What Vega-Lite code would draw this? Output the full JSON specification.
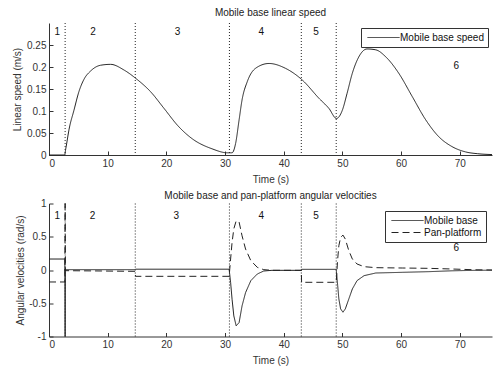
{
  "$schema": "https://vega.github.io/schema/vega-lite/v6.json",
  "padding": {"left": 12, "top": 7, "right": 0, "bottom": 0},
  "background": "white",
  "spacing": 6.5,
  "resolve": {"scale": {"strokeDash": "independent"}, "legend": {"strokeDash": "independent"}},
  "config": {
    "view": {"stroke": null},
    "font": "Liberation Sans",
    "axis": {
      "domainColor": "#333", "tickColor": "#333", "labelColor": "#333", "titleColor": "#333",
      "labelFont": "Liberation Sans", "titleFont": "Liberation Sans",
      "labelFontSize": 10, "titleFontSize": 10, "titleFontWeight": "normal",
      "tickSize": -4, "labelPadding": 7, "grid": false, "titlePadding": 6, "labelOverlap": false
    },
    "title": {"font": "Liberation Sans", "fontSize": 10, "fontWeight": "normal", "color": "#222", "offset": 5, "frame": "group", "anchor": "middle"},
    "legend": {
      "labelFont": "Liberation Sans", "labelFontSize": 10, "labelColor": "#111",
      "strokeColor": "#333", "fillColor": "white", "padding": 4,
      "symbolType": "M-0.6,0H5.8", "symbolSize": 100, "symbolStrokeWidth": 1, "symbolStrokeColor": "#222",
      "labelOffset": 24, "rowPadding": 1, "columnPadding": 0, "columns": 1, "title": null
    }
  },
  "datasets": {
    "speed": [
      {"t": 0, "v": 0, "series": "Mobile base speed"},
      {"t": 2.7, "v": 0, "series": "Mobile base speed"},
      {"t": 2.75, "v": 0.005, "series": "Mobile base speed"},
      {"t": 3.0, "v": 0.025, "series": "Mobile base speed"},
      {"t": 3.4, "v": 0.057, "series": "Mobile base speed"},
      {"t": 4.26, "v": 0.102, "series": "Mobile base speed"},
      {"t": 5.1, "v": 0.144, "series": "Mobile base speed"},
      {"t": 5.96, "v": 0.172, "series": "Mobile base speed"},
      {"t": 7.1, "v": 0.191, "series": "Mobile base speed"},
      {"t": 8.8, "v": 0.204, "series": "Mobile base speed"},
      {"t": 10.5, "v": 0.206, "series": "Mobile base speed"},
      {"t": 12.8, "v": 0.193, "series": "Mobile base speed"},
      {"t": 14.8, "v": 0.174, "series": "Mobile base speed"},
      {"t": 17.3, "v": 0.144, "series": "Mobile base speed"},
      {"t": 19.6, "v": 0.106, "series": "Mobile base speed"},
      {"t": 22.0, "v": 0.066, "series": "Mobile base speed"},
      {"t": 24.4, "v": 0.037, "series": "Mobile base speed"},
      {"t": 27.8, "v": 0.014, "series": "Mobile base speed"},
      {"t": 30.4, "v": 0.005, "series": "Mobile base speed"},
      {"t": 31.2, "v": 0.005, "series": "Mobile base speed"},
      {"t": 31.8, "v": 0.026, "series": "Mobile base speed"},
      {"t": 32.4, "v": 0.08, "series": "Mobile base speed"},
      {"t": 32.9, "v": 0.125, "series": "Mobile base speed"},
      {"t": 33.8, "v": 0.167, "series": "Mobile base speed"},
      {"t": 35.2, "v": 0.197, "series": "Mobile base speed"},
      {"t": 37.5, "v": 0.208, "series": "Mobile base speed"},
      {"t": 40.3, "v": 0.197, "series": "Mobile base speed"},
      {"t": 43.2, "v": 0.17, "series": "Mobile base speed"},
      {"t": 46.0, "v": 0.129, "series": "Mobile base speed"},
      {"t": 47.7, "v": 0.106, "series": "Mobile base speed"},
      {"t": 49.0, "v": 0.083, "series": "Mobile base speed"},
      {"t": 50.0, "v": 0.102, "series": "Mobile base speed"},
      {"t": 50.8, "v": 0.14, "series": "Mobile base speed"},
      {"t": 51.7, "v": 0.186, "series": "Mobile base speed"},
      {"t": 52.8, "v": 0.223, "series": "Mobile base speed"},
      {"t": 54.2, "v": 0.241, "series": "Mobile base speed"},
      {"t": 55.7, "v": 0.239, "series": "Mobile base speed"},
      {"t": 57.4, "v": 0.223, "series": "Mobile base speed"},
      {"t": 59.6, "v": 0.186, "series": "Mobile base speed"},
      {"t": 61.9, "v": 0.133, "series": "Mobile base speed"},
      {"t": 64.2, "v": 0.08, "series": "Mobile base speed"},
      {"t": 66.4, "v": 0.042, "series": "Mobile base speed"},
      {"t": 68.7, "v": 0.019, "series": "Mobile base speed"},
      {"t": 71.0, "v": 0.007, "series": "Mobile base speed"},
      {"t": 73.0, "v": 0.003, "series": "Mobile base speed"},
      {"t": 75.5, "v": 0.001, "series": "Mobile base speed"}
    ],
    "ang": [
      {"t": 0, "v": 0.165, "series": "Mobile base"},
      {"t": 2.7, "v": 0.165, "series": "Mobile base"},
      {"t": 2.75, "v": -1.3, "series": "Mobile base"},
      {"t": 2.8, "v": 0.005, "series": "Mobile base"},
      {"t": 14.7, "v": 0.005, "series": "Mobile base"},
      {"t": 14.75, "v": 0.012, "series": "Mobile base"},
      {"t": 30.7, "v": 0.012, "series": "Mobile base"},
      {"t": 30.95, "v": -0.185, "series": "Mobile base"},
      {"t": 31.2, "v": -0.44, "series": "Mobile base"},
      {"t": 31.5, "v": -0.69, "series": "Mobile base"},
      {"t": 31.9, "v": -0.84, "series": "Mobile base"},
      {"t": 32.4, "v": -0.79, "series": "Mobile base"},
      {"t": 32.9, "v": -0.54, "series": "Mobile base"},
      {"t": 33.5, "v": -0.34, "series": "Mobile base"},
      {"t": 34.4, "v": -0.16, "series": "Mobile base"},
      {"t": 35.5, "v": -0.06, "series": "Mobile base"},
      {"t": 36.6, "v": -0.015, "series": "Mobile base"},
      {"t": 38.0, "v": -0.005, "series": "Mobile base"},
      {"t": 43.0, "v": -0.005, "series": "Mobile base"},
      {"t": 43.05, "v": 0.01, "series": "Mobile base"},
      {"t": 48.95, "v": 0.01, "series": "Mobile base"},
      {"t": 49.2, "v": -0.235, "series": "Mobile base"},
      {"t": 49.4, "v": -0.435, "series": "Mobile base"},
      {"t": 49.7, "v": -0.585, "series": "Mobile base"},
      {"t": 50.1, "v": -0.635, "series": "Mobile base"},
      {"t": 50.5, "v": -0.585, "series": "Mobile base"},
      {"t": 51.1, "v": -0.435, "series": "Mobile base"},
      {"t": 51.7, "v": -0.285, "series": "Mobile base"},
      {"t": 52.5, "v": -0.16, "series": "Mobile base"},
      {"t": 53.7, "v": -0.085, "series": "Mobile base"},
      {"t": 55.7, "v": -0.045, "series": "Mobile base"},
      {"t": 60.2, "v": -0.035, "series": "Mobile base"},
      {"t": 64.7, "v": -0.025, "series": "Mobile base"},
      {"t": 68.7, "v": -0.012, "series": "Mobile base"},
      {"t": 72.7, "v": -0.005, "series": "Mobile base"},
      {"t": 75.5, "v": -0.003, "series": "Mobile base"},
      {"t": 0, "v": -0.18, "series": "Pan-platform"},
      {"t": 2.7, "v": -0.18, "series": "Pan-platform"},
      {"t": 2.75, "v": 1.3, "series": "Pan-platform"},
      {"t": 2.8, "v": -0.01, "series": "Pan-platform"},
      {"t": 9.0, "v": -0.015, "series": "Pan-platform"},
      {"t": 14.7, "v": -0.02, "series": "Pan-platform"},
      {"t": 14.75, "v": -0.095, "series": "Pan-platform"},
      {"t": 30.7, "v": -0.095, "series": "Pan-platform"},
      {"t": 30.95, "v": 0.165, "series": "Pan-platform"},
      {"t": 31.2, "v": 0.415, "series": "Pan-platform"},
      {"t": 31.5, "v": 0.62, "series": "Pan-platform"},
      {"t": 31.9, "v": 0.74, "series": "Pan-platform"},
      {"t": 32.4, "v": 0.72, "series": "Pan-platform"},
      {"t": 32.9, "v": 0.515, "series": "Pan-platform"},
      {"t": 33.5, "v": 0.315, "series": "Pan-platform"},
      {"t": 34.4, "v": 0.14, "series": "Pan-platform"},
      {"t": 35.5, "v": 0.04, "series": "Pan-platform"},
      {"t": 36.6, "v": 0.005, "series": "Pan-platform"},
      {"t": 38.0, "v": -0.005, "series": "Pan-platform"},
      {"t": 43.0, "v": -0.005, "series": "Pan-platform"},
      {"t": 43.05, "v": -0.185, "series": "Pan-platform"},
      {"t": 48.95, "v": -0.185, "series": "Pan-platform"},
      {"t": 49.2, "v": 0.165, "series": "Pan-platform"},
      {"t": 49.4, "v": 0.365, "series": "Pan-platform"},
      {"t": 49.7, "v": 0.49, "series": "Pan-platform"},
      {"t": 50.1, "v": 0.525, "series": "Pan-platform"},
      {"t": 50.5, "v": 0.465, "series": "Pan-platform"},
      {"t": 51.1, "v": 0.29, "series": "Pan-platform"},
      {"t": 51.7, "v": 0.165, "series": "Pan-platform"},
      {"t": 52.5, "v": 0.09, "series": "Pan-platform"},
      {"t": 53.7, "v": 0.05, "series": "Pan-platform"},
      {"t": 55.7, "v": 0.035, "series": "Pan-platform"},
      {"t": 60.2, "v": 0.03, "series": "Pan-platform"},
      {"t": 64.7, "v": 0.025, "series": "Pan-platform"},
      {"t": 68.7, "v": 0.015, "series": "Pan-platform"},
      {"t": 72.7, "v": 0.003, "series": "Pan-platform"},
      {"t": 75.5, "v": 0.0, "series": "Pan-platform"}
    ],
    "bounds": [{"t": 2.75}, {"t": 14.7}, {"t": 30.75}, {"t": 43.0}, {"t": 48.95}],
    "labTop": [
      {"t": 1.4, "v": 0.279, "lab": "1"},
      {"t": 7.5, "v": 0.279, "lab": "2"},
      {"t": 21.9, "v": 0.279, "lab": "3"},
      {"t": 36.2, "v": 0.279, "lab": "4"},
      {"t": 45.5, "v": 0.279, "lab": "5"},
      {"t": 69.4, "v": 0.202, "lab": "6"}
    ],
    "labBot": [
      {"t": 1.4, "v": 0.81, "lab": "1"},
      {"t": 7.4, "v": 0.81, "lab": "2"},
      {"t": 21.7, "v": 0.81, "lab": "3"},
      {"t": 36.2, "v": 0.81, "lab": "4"},
      {"t": 45.5, "v": 0.81, "lab": "5"},
      {"t": 69.4, "v": 0.33, "lab": "6"}
    ]
  },
  "vconcat": [
    {
      "width": 443,
      "height": 132,
      "title": "Mobile base linear speed",
      "layer": [
        {
          "data": {"name": "speed"},
          "mark": {"type": "line", "color": "#222", "strokeWidth": 1, "interpolate": "monotone"},
          "encoding": {
            "x": {"field": "t", "type": "quantitative", "title": "Time (s)",
              "scale": {"domain": [0, 75.5], "nice": false, "zero": false},
              "axis": {"values": [0, 10, 20, 30, 40, 50, 60, 70], "tickCount": 20}},
            "y": {"field": "v", "type": "quantitative", "title": "Linear speed (m/s)",
              "scale": {"domain": [0, 0.3], "nice": false},
              "axis": {"values": [0, 0.05, 0.1, 0.15, 0.2, 0.25], "tickCount": 20, "labelExpr": "'' + datum.value", "titlePadding": 4}},
            "strokeDash": {"field": "series", "type": "nominal",
              "scale": {"domain": ["Mobile base speed"], "range": [[1, 0]]},
              "legend": {"orient": "none", "legendX": 312, "legendY": 5}}
          }
        },
        {
          "data": {"name": "bounds"},
          "mark": {"type": "rule", "color": "#222", "strokeDash": [1, 2], "strokeWidth": 1},
          "encoding": {"x": {"field": "t", "type": "quantitative"}}
        },
        {
          "data": {"name": "labTop"},
          "mark": {"type": "text", "font": "Liberation Sans", "fontSize": 10, "color": "#111"},
          "encoding": {
            "x": {"field": "t", "type": "quantitative"},
            "y": {"field": "v", "type": "quantitative"},
            "text": {"field": "lab"}
          }
        }
      ]
    },
    {
      "width": 443,
      "height": 133,
      "title": {"text": "Mobile base and pan-platform angular velocities", "offset": -2},
      "layer": [
        {
          "data": {"name": "ang"},
          "mark": {"type": "line", "color": "#222", "strokeWidth": 1, "clip": true},
          "encoding": {
            "x": {"field": "t", "type": "quantitative", "title": "Time (s)",
              "scale": {"domain": [0, 75.5], "nice": false, "zero": false},
              "axis": {"values": [0, 10, 20, 30, 40, 50, 60, 70], "tickCount": 20, "titlePadding": 6}},
            "y": {"field": "v", "type": "quantitative", "title": "Angular velocities (rad/s)",
              "scale": {"domain": [-1, 1], "nice": false},
              "axis": {"values": [-1, -0.5, 0, 0.5, 1], "tickCount": 20, "labelExpr": "'' + datum.value", "titlePadding": 3}},
            "strokeDash": {"field": "series", "type": "nominal",
              "scale": {"domain": ["Mobile base", "Pan-platform"], "range": [[1, 0], [7, 4]]},
              "legend": {"orient": "none", "legendX": 336, "legendY": 7.5}}
          }
        },
        {
          "data": {"name": "bounds"},
          "mark": {"type": "rule", "color": "#222", "strokeDash": [1, 2], "strokeWidth": 1},
          "encoding": {"x": {"field": "t", "type": "quantitative"}}
        },
        {
          "data": {"name": "labBot"},
          "mark": {"type": "text", "font": "Liberation Sans", "fontSize": 10, "color": "#111"},
          "encoding": {
            "x": {"field": "t", "type": "quantitative"},
            "y": {"field": "v", "type": "quantitative"},
            "text": {"field": "lab"}
          }
        }
      ]
    }
  ]
}
